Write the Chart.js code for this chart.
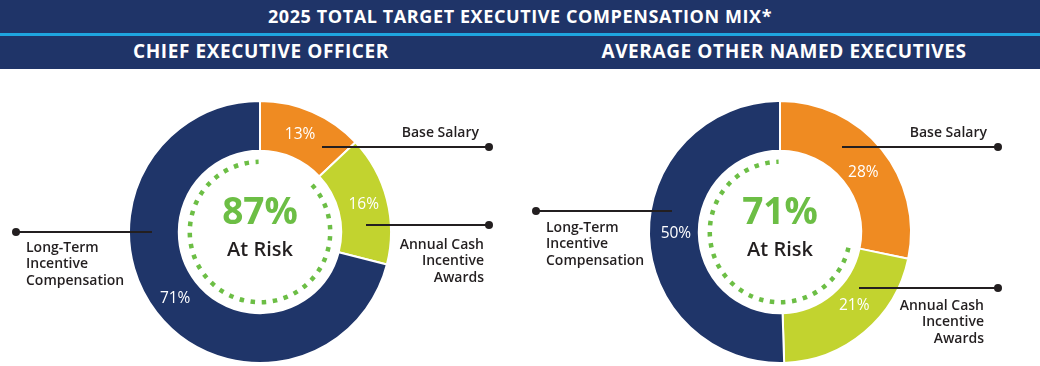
<!DOCTYPE html>
<html>
<head>
<meta charset="utf-8">
<script src="https://cdn.jsdelivr.net/npm/chart.js@4"></script>
<style>
  html, body { margin: 0; padding: 0; background: #fff; }
  body { width: 1040px; height: 366px; position: relative; overflow: hidden; font-family: "Open Sans", sans-serif; }
  .band { position: absolute; left: 0; width: 1040px; background: #1f3468; color: #fff; font-weight: 700; }
  #title { top: 0; height: 33px; line-height: 33px; text-align: center; font-size: 18px; letter-spacing: 0.6px; }
  #rule { position: absolute; top: 33px; left: 0; width: 1040px; height: 3px; background: #1ea5e0; }
  #sub { top: 36px; height: 33px; }
  .subt { position: absolute; top: 0; line-height: 31px; font-size: 19px; letter-spacing: 0.6px; text-align: center; width: 440px; }
  .wrap { position: absolute; top: 69px; width: 520px; height: 297px; }
</style>
</head>
<body>
<div class="band" id="title"></div>
<div id="rule"></div>
<div class="band" id="sub">
  <div class="subt" id="sub1" style="left:41px"></div>
  <div class="subt" id="sub2" style="left:564px"></div>
</div>
<div class="wrap" style="left:0"><canvas id="c1" width="520" height="297"></canvas></div>
<div class="wrap" style="left:520px"><canvas id="c2" width="520" height="297"></canvas></div>
<script>
// ---- data ----
const mainTitle = '2025 TOTAL TARGET EXECUTIVE COMPENSATION MIX*';
const panelTitles = ['CHIEF EXECUTIVE OFFICER', 'AVERAGE OTHER NAMED EXECUTIVES'];
const categories = ['Base Salary', 'Annual Cash Incentive Awards', 'Long-Term Incentive Compensation'];
const categoryLines = [['Base Salary'], ['Annual Cash', 'Incentive', 'Awards'], ['Long-Term', 'Incentive', 'Compensation']];
const ceoValues = [13, 16, 71];
const neoValues = [28, 21, 50];
const atRiskLabels = ['87%', '71%'];
const atRiskText = 'At Risk';

document.getElementById('title').textContent = mainTitle;
document.getElementById('sub1').textContent = panelTitles[0];
document.getElementById('sub2').textContent = panelTitles[1];

const COLORS = ['#ef8b22', '#c2d32f', '#1f3569'];
const GREEN = '#6cbe45';
const INK = '#231f20';

const calloutPlugin = {
  id: 'callouts',
  afterDatasetsDraw(chart, args, opts) {
    const ctx = chart.ctx;
    const meta = chart.getDatasetMeta(0);
    const arcs = meta.data;
    const ds = chart.data.datasets[0];
    ctx.save();
    // dotted "at risk" ring over the non-base segments
    const a1 = arcs[1], a2 = arcs[2];
    const r = a1.innerRadius - 11;
    ctx.beginPath();
    ctx.setLineDash([4.5, 6.6]);
    ctx.lineWidth = 4.5;
    ctx.strokeStyle = GREEN;
    ctx.arc(a1.x, a1.y, r, a1.startAngle + 0.02, a2.endAngle - 0.02);
    ctx.stroke();
    ctx.setLineDash([]);
    // percentage labels
    ctx.fillStyle = '#fff';
    ctx.font = '500 15.5px "Open Sans"';
    ctx.textAlign = 'center';
    ctx.textBaseline = 'middle';
    arcs.forEach((a, i) => {
      const p = a.tooltipPosition();
      const off = opts.pctOffset[i];
      ctx.fillText(ds.data[i] + '%', p.x + off[0], p.y + off[1]);
    });
    // center text
    ctx.fillStyle = GREEN;
    ctx.font = 'bold 37px "Open Sans"';
    ctx.fillText(opts.center, a1.x, a1.y - 19);
    ctx.fillStyle = INK;
    ctx.font = '600 20px "Open Sans"';
    ctx.fillText(atRiskText, a1.x, a1.y + 18);
    // callouts
    opts.callouts.forEach((c, i) => {
      ctx.strokeStyle = INK;
      ctx.lineWidth = 2;
      ctx.beginPath();
      ctx.moveTo(c.x1, c.ly);
      ctx.lineTo(c.x2, c.ly);
      ctx.stroke();
      ctx.fillStyle = INK;
      ctx.beginPath();
      ctx.arc(c.dot, c.ly, 4, 0, Math.PI * 2);
      ctx.fill();
      ctx.font = '600 14px "Open Sans"';
      ctx.textAlign = c.align;
      ctx.textBaseline = 'middle';
      categoryLines[i].forEach((t, k) => ctx.fillText(t, c.tx, c.ty + k * 16.5));
    });
    ctx.restore();
  }
};

function makeChart(id, values, center, callouts, pctOffset) {
  return new Chart(document.getElementById(id), {
    type: 'doughnut',
    data: {
      labels: categories,
      datasets: [{
        data: values,
        backgroundColor: COLORS,
        borderColor: '#ffffff',
        borderWidth: 2
      }]
    },
    options: {
      responsive: false,
      animation: false,
      cutout: '62%',
      layout: { padding: { left: 128, right: 128, top: 31, bottom: 2 } },
      plugins: {
        legend: { display: false },
        tooltip: { enabled: false },
        callouts: { center, callouts, pctOffset }
      }
    },
    plugins: [calloutPlugin]
  });
}

makeChart('c1', ceoValues, atRiskLabels[0], [
  { x1: 322, x2: 489, dot: 489, ly: 78, tx: 479, ty: 64, align: 'right' },
  { x1: 366, x2: 489, dot: 489, ly: 156, tx: 484, ty: 176, align: 'right' },
  { x1: 16, x2: 152, dot: 16, ly: 163, tx: 26, ty: 179, align: 'left' }
], [[-2, 0], [1, -1], [-1, 2]]);

makeChart('c2', neoValues, atRiskLabels[1], [
  { x1: 322, x2: 478, dot: 478, ly: 78, tx: 467, ty: 64, align: 'right' },
  { x1: 339, x2: 478, dot: 478, ly: 219, tx: 464, ty: 237, align: 'right' },
  { x1: 16, x2: 152, dot: 16, ly: 142, tx: 26, ty: 159, align: 'left' }
], [[1, 7], [6, -8], [2, 0]]);
</script>
</body>
</html>
